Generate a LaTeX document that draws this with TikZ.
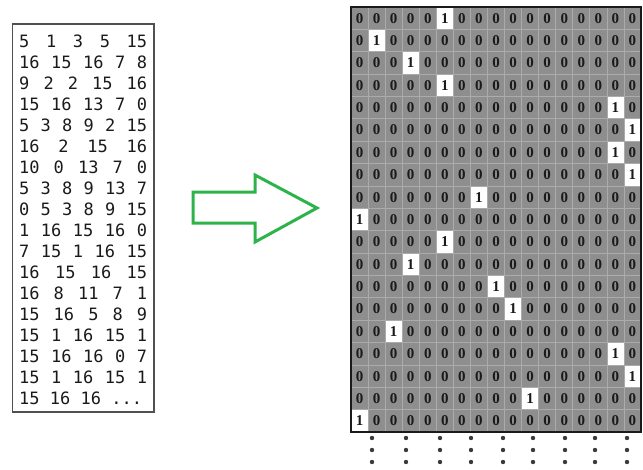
\documentclass[tikz,border=0pt]{standalone}
\usepackage{fontspec}
\setmainfont{Liberation Serif}
\setmonofont{DejaVu Sans Mono}
\usetikzlibrary{positioning}
\definecolor{cellgray}{HTML}{8E8E8E}
\definecolor{gridline}{HTML}{ABABAB}
\definecolor{inkdark}{HTML}{1A1A1A}
\definecolor{framegray}{HTML}{505050}
\definecolor{arrowgreen}{HTML}{2DB34A}
\definecolor{dotgray}{HTML}{3A3A3A}
\newcommand\jline[1]{\hbox to 128pt{\spaceskip=0.6em plus 1fil\relax #1}}

\begin{document}
\begin{tikzpicture}[
    x=1pt, y=-1pt,
    cell/.style={draw=gridline, line width=0.8pt, minimum width=17.06pt, minimum height=22.37pt, inner sep=0pt, text=inkdark, font=\bfseries\fontsize{15}{15}\selectfont},
    seqline/.style={anchor=west, inner sep=0pt, text=inkdark, font=\ttfamily\fontsize{17}{17}\selectfont},
    seqframe/.style={draw=framegray, line width=1.5pt},
    gridframe/.style={draw=inkdark, line width=1.8pt},
    bigarrow/.style={draw=arrowgreen, line width=3pt, line join=miter}
]
  \useasboundingbox (0,0) rectangle (643,469);

  % input sequence
  \draw[seqframe] (12.7,24) rectangle (154,412);
  \foreach \l [count=\i] in {5 1 3 5 15, 16 15 16 7 8, 9 2 2 15 16, 15 16 13 7 0,
      5 3 8 9 2 15, 16 2 15 16, 10 0 13 7 0, 5 3 8 9 13 7, 0 5 3 8 9 15,
      1 16 15 16 0, 7 15 1 16 15, 16 15 16 15, 16 8 11 7 1, 15 16 5 8 9,
      15 1 16 15 1, 15 16 16 0 7, 15 1 16 15 1}
    \node[seqline] (seq\i) at (19,{41+21*(\i-1)}) {\jline{\l}};
  \node[seqline] (seq18) at (19,398) {15 16 16 ...};

  % arrow
  \draw[bigarrow] (193,192) -- (255,192) -- (255,175) -- (317,208) -- (255,242) -- (255,223) -- (193,223) -- cycle;

  % one-hot grid
  \foreach \hitcol [count=\r from 0] in {5,1,3,5,15,16,15,16,7,0,5,3,8,9,2,15,16,10,0} {
    \foreach \c in {0,...,16} {
      \ifnum\c=\hitcol
        \def\cellfill{white}\def\cellval{1}
      \else
        \def\cellfill{cellgray}\def\cellval{0}
      \fi
      \node[cell, fill=\cellfill] (c-\r-\c) at ({351+17.06*(\c+0.5)},{7+22.37*(\r+0.5)}) {\cellval};
    }
  }
  \draw[gridframe] (351,7) rectangle (641,432);

  % continuation dots
  \foreach \dx in {372,406,440,471,503,533,565,595,627}
    \foreach \dy in {438,450,462}
      \fill[dotgray] (\dx,\dy) circle (2.2);
\end{tikzpicture}
\end{document}
